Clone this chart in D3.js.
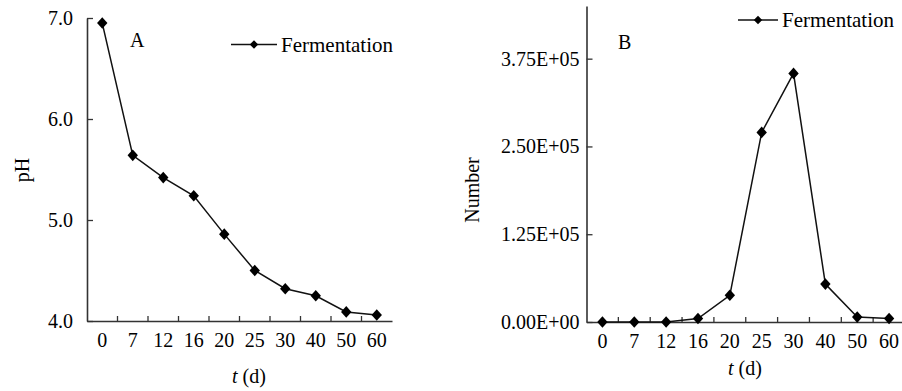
<!DOCTYPE html>
<html>
<head>
<meta charset="utf-8">
<script src="https://cdn.jsdelivr.net/npm/d3@7"></script>
<style>
  body { margin: 0; background: #fff; }
  svg text { font-family: "Liberation Serif", "Times New Roman", serif; fill: #000; }
</style>
</head>
<body>
<div id="chart"></div>
<script>
// data
const days = ["0", "7", "12", "16", "20", "25", "30", "40", "50", "60"];
const phValues = [6.95, 5.64, 5.42, 5.24, 4.86, 4.50, 4.32, 4.25, 4.09, 4.06];
const numberValues = [0, 0, 0, 5000, 38000, 270000, 354000, 54000, 7000, 5000];
const phTicks = [4.0, 5.0, 6.0, 7.0];
const numberTicks = [0, 125000, 250000, 375000];
const seriesName = "Fermentation";

const svg = d3.select("#chart")
  .append("svg")
    .attr("width", 902)
    .attr("height", 391);

// diamond marker, half width w, half height h
function diamond(w, h) {
  const p = d3.path();
  p.moveTo(0, -h);
  p.lineTo(w, 0);
  p.lineTo(0, h);
  p.lineTo(-w, 0);
  p.closePath();
  return p.toString();
}

function drawPanel(opt) {
  const x = d3.scaleBand()
    .domain(days)
    .range(opt.xRange)
    .padding(0);

  const y = d3.scaleLinear()
    .domain(opt.yDomain)
    .range(opt.yRange);

  const g = svg.append("g");
  const y0 = opt.yRange[0];

  // x axis, labels only, ticks drawn at the band edges
  const xa = g.append("g")
    .attr("transform", `translate(0,${y0})`)
    .call(d3.axisBottom(x).tickSize(0).tickPadding(12));
  xa.select(".domain").attr("stroke", "#333").attr("stroke-width", 1.6);
  xa.selectAll("text").style("font-size", "20px").attr("fill", "#000");

  g.selectAll(".xtick")
    .data(days.slice(1))
    .enter().append("line")
      .attr("x1", d => x(d))
      .attr("x2", d => x(d))
      .attr("y1", y0)
      .attr("y2", y0 - 5)
      .attr("stroke", "#333")
      .attr("stroke-width", 1.3);

  // y axis
  const ya = g.append("g")
    .attr("transform", `translate(${opt.xRange[0]},0)`)
    .call(d3.axisLeft(y).tickValues(opt.yTicks).tickFormat(opt.yFormat)
      .tickSizeInner(-6).tickSizeOuter(0).tickPadding(opt.yPad));
  ya.select(".domain").attr("stroke", "#333").attr("stroke-width", 1.6);
  ya.selectAll(".tick line").attr("stroke", "#333").attr("stroke-width", 1.3);
  ya.selectAll("text").style("font-size", "20px").attr("fill", "#000");

  // series
  const cx = d => x(d) + x.bandwidth() / 2;
  const pts = days.map((d, i) => ({ day: d, v: opt.values[i] }));

  g.append("path")
    .datum(pts)
    .attr("fill", "none")
    .attr("stroke", "#111")
    .attr("stroke-width", 1.5)
    .attr("d", d3.line().x(d => cx(d.day)).y(d => y(d.v)));

  g.selectAll(".pt")
    .data(pts)
    .enter().append("path")
      .attr("d", diamond(5.2, 5.8))
      .attr("transform", d => `translate(${cx(d.day)},${y(d.v)})`)
      .attr("fill", "#000");

  // panel letter
  g.append("text")
    .attr("x", opt.letterPos[0])
    .attr("y", opt.letterPos[1])
    .style("font-size", "20px")
    .text(opt.letter);

  // legend
  const lg = g.append("g").attr("transform", `translate(${opt.legendPos[0]},${opt.legendPos[1]})`);
  lg.append("line")
    .attr("x1", 0).attr("x2", opt.legendLen)
    .attr("y1", 0).attr("y2", 0)
    .attr("stroke", "#111").attr("stroke-width", 1.5);
  lg.append("path")
    .attr("d", diamond(4.2, 4.2))
    .attr("transform", `translate(${opt.legendLen / 2},0)`)
    .attr("fill", "#000");
  lg.append("text")
    .attr("x", opt.legendLen + 4)
    .attr("y", 7)
    .style("font-size", "21px")
    .text(seriesName);

  // axis titles
  g.append("text")
    .attr("transform", `translate(${opt.yTitlePos[0]},${opt.yTitlePos[1]}) rotate(-90)`)
    .attr("text-anchor", "middle")
    .style("font-size", "20px")
    .text(opt.yTitle);

  const xt = g.append("text")
    .attr("x", opt.xTitlePos[0])
    .attr("y", opt.xTitlePos[1])
    .attr("text-anchor", "middle")
    .style("font-size", "20px");
  xt.append("tspan").style("font-style", "italic").text("t");
  xt.append("tspan").text(" (d)");
}

drawPanel({
  xRange: [87, 392],
  yRange: [321, 18],
  yDomain: [4, 7],
  yTicks: phTicks,
  yFormat: d3.format(".1f"),
  yPad: 14,
  values: phValues,
  letter: "A",
  letterPos: [130, 47],
  legendPos: [231, 44.5],
  legendLen: 46,
  yTitle: "pH",
  yTitlePos: [29, 170],
  xTitlePos: [249, 383]
});

drawPanel({
  xRange: [586.5, 905],
  yRange: [322, 6],
  yDomain: [0, 450000],
  yTicks: numberTicks,
  yFormat: d => d3.format(".2e")(d).replace("e+", "E+0").toUpperCase(),
  yPad: 7,
  values: numberValues,
  letter: "B",
  letterPos: [618, 49],
  legendPos: [738, 20],
  legendLen: 40,
  yTitle: "Number",
  yTitlePos: [479, 190],
  xTitlePos: [745, 375]
});
</script>
</body>
</html>
